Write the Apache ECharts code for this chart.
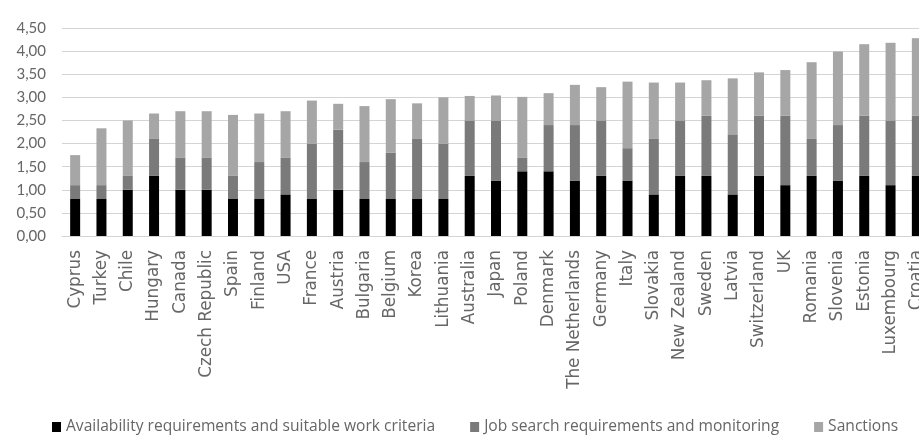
<!DOCTYPE html>
<html>
<head>
<meta charset="utf-8">
<script src="https://cdn.jsdelivr.net/npm/echarts@6/dist/echarts.min.js"></script>
<style>
  html, body { margin: 0; padding: 0; background: #fff; }
  #chart { width: 919px; height: 436px; }
</style>
</head>
<body>
<div id="chart"></div>
<script>
const countries = ['Cyprus', 'Turkey', 'Chile', 'Hungary', 'Canada', 'Czech Republic', 'Spain', 'Finland', 'USA', 'France',
  'Austria', 'Bulgaria', 'Belgium', 'Korea', 'Lithuania', 'Australia', 'Japan', 'Poland', 'Denmark', 'The Netherlands',
  'Germany', 'Italy', 'Slovakia', 'New Zealand', 'Sweden', 'Latvia', 'Switzerland', 'UK', 'Romania', 'Slovenia',
  'Estonia', 'Luxembourg', 'Croatia']

// segment heights, bottom to top
const availability = [0.8, 0.8, 1.0, 1.3, 1.0, 1.0, 0.8, 0.8, 0.9, 0.8,
  1.0, 0.8, 0.8, 0.8, 0.8, 1.3, 1.2, 1.4, 1.4, 1.2,
  1.3, 1.2, 0.9, 1.3, 1.3, 0.9, 1.3, 1.1, 1.3, 1.2,
  1.3, 1.1, 1.3]
const jobSearch = [0.3, 0.3, 0.3, 0.8, 0.7, 0.7, 0.5, 0.8, 0.8, 1.2,
  1.3, 0.8, 1.0, 1.3, 1.2, 1.2, 1.3, 0.3, 1.0, 1.2,
  1.2, 0.7, 1.2, 1.2, 1.3, 1.3, 1.3, 1.5, 0.8, 1.2,
  1.3, 1.4, 1.3]
const sanctions = [0.65, 1.23, 1.2, 0.55, 1.0, 1.0, 1.32, 1.05, 1.0, 0.93,
  0.56, 1.21, 1.16, 0.77, 1.0, 0.53, 0.54, 1.31, 0.69, 0.87,
  0.72, 1.44, 1.22, 0.82, 0.77, 1.21, 0.94, 0.99, 1.66, 1.59,
  1.55, 1.68, 1.68]

const seriesNames = ['Availability requirements and suitable work criteria', 'Job search requirements and monitoring', 'Sanctions']
const colors = ['#000000', '#7a7a7a', '#a6a6a6']

const chart = echarts.init(document.getElementById('chart'))

const makeSeries = (name, data, color) => ({
  name,
  type: 'bar',
  stack: 'total',
  data,
  barWidth: 10,
  itemStyle: { color },
  emphasis: { disabled: true }
})

const option = {
  animation: false,
  color: colors,
  textStyle: { fontFamily: 'Lato' },
  legend: {
    data: seriesNames,
    left: 47,
    top: 414,
    itemWidth: 9,
    itemHeight: 10,
    itemGap: 35,
    itemTextGap: 4,
    itemStyle: { borderWidth: 0 },
    icon: 'rect',
    textStyle: { color: '#666', fontSize: 15.6, fontFamily: 'Open Sans' }
  },
  // plot runs past the right edge, Croatia is cut off like in the source
  grid: {
    left: 62,
    top: 28,
    right: -11,
    height: 208,
    outerBoundsMode: 'none'
  },
  xAxis: {
    type: 'category',
    data: countries,
    axisLine: { lineStyle: { color: '#d4d4d4' } },
    axisTick: { show: false },
    axisLabel: {
      rotate: 90,
      interval: 0,
      margin: 14,
      color: '#666',
      fontSize: 16.8,
      fontFamily: 'DejaVu Sans'
    }
  },
  yAxis: {
    type: 'value',
    min: 0,
    max: 4.5,
    interval: 0.5,
    axisLine: { show: false },
    axisTick: { show: false },
    splitLine: { lineStyle: { color: '#d4d4d4' } },
    axisLabel: {
      margin: 16,
      color: '#666',
      fontSize: 15,
      fontFamily: 'Lato',
      formatter: (v) => v.toFixed(2).replace('.', ',')
    }
  },
  series: [
    makeSeries(seriesNames[0], availability, colors[0]),
    makeSeries(seriesNames[1], jobSearch, colors[1]),
    makeSeries(seriesNames[2], sanctions, colors[2])
  ]
}

chart.setOption(option)
</script>
</body>
</html>
